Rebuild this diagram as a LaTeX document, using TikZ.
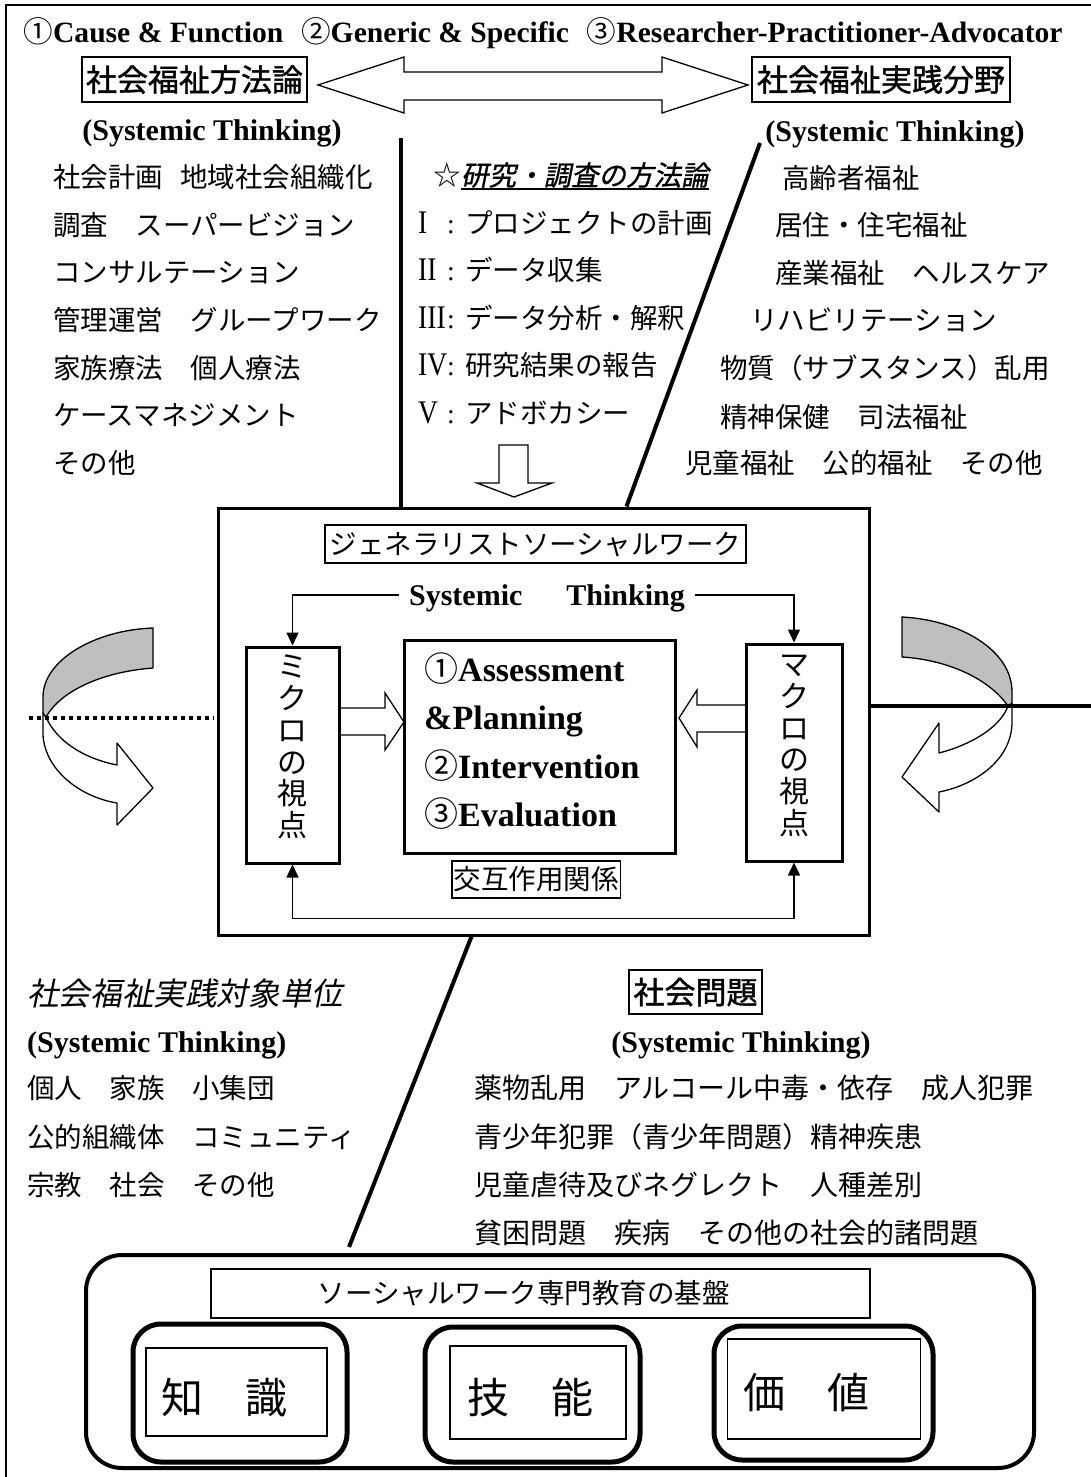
\documentclass[tikz,border=0pt]{standalone}
\usepackage{fontspec}
\setmainfont{Liberation Serif}
\newfontfamily\jp{Noto Sans CJK JP}
\newfontfamily\jpit{Noto Sans CJK JP}[FakeSlant=0.2]
\newfontfamily\jpbf{Noto Sans CJK JP}[FakeBold=1.2]
\newfontfamily\jpitbf{Noto Sans CJK JP}[FakeSlant=0.2,FakeBold=1]
\usetikzlibrary{arrows.meta,calc}
\newcommand\fsz[1]{\fontsize{#1}{#1}\selectfont}
\newcommand\fitx[2]{\resizebox{#1}{\height}{#2}}
\newcommand\cdig[1]{{\jp\mdseries #1}}
\newcommand\rnum[1]{\makebox[29pt][l]{\rmfamily\scalebox{1}[1.2]{#1}}\makebox[18pt][l]{\rmfamily :}}
\begin{document}
\begin{tikzpicture}[x=1pt,y=-1pt,
  jt/.style={inner sep=0pt,anchor=west,font=\jp\fsz{27.5},text height=24.2pt,text depth=3.3pt},
  jtb/.style={jt,font=\jp\fsz{28},text height=24.6pt,text depth=3.4pt},
  stk/.style={inner sep=0pt,font=\bfseries\fsz{30},text height=20pt,text depth=0pt},
  cbx/.style={inner sep=0pt,anchor=west,font=\bfseries\fsz{34},text height=22.5pt,text depth=0pt},
  hbox/.style={draw,line width=1.5pt,inner sep=0pt,font=\jpbf\fsz{31},text height=27.3pt,text depth=3.7pt},
  lbox/.style={draw,line width=1.5pt,inner sep=0pt,font=\jp\fsz{27.5},text height=24.2pt,text depth=3.3pt},
  thick4/.style={line width=4pt},
  tip/.tip={Triangle[length=13pt,width=12pt]},
  tarrow/.style={line width=1.5pt,-tip},
  hollow/.style={draw,fill=white,line width=1.3pt,line join=miter},
  vbox/.style={draw,line width=3pt,inner sep=0pt},
  vtext/.style={inner sep=0pt,align=center,font=\jp\fontsize{30}{31.7}\selectfont},
  big/.style={inner sep=0pt,font=\jp\fsz{42},text height=37pt,text depth=5pt},
  curv/.style={line width=1.3pt,line join=round}
]
\useasboundingbox (0,0) rectangle (1091,1477);
\fill[white] (0,0) rectangle (1091,1477);
% frame
\draw[line width=1.5pt] (6,1477) -- (6,5) -- (1091,5);

% header
\node[inner sep=0pt,font=\bfseries\fsz{29.5},text height=19.5pt,text depth=0pt] (hdr) at (543,33)
  {\fitx{1039pt}{\cdig{①}Cause \& Function\hspace{0.6em}\cdig{②}Generic \& Specific\hspace{0.6em}\cdig{③}Researcher-Practitioner-Advocator}};

% top boxes and double arrow
\node[hbox,minimum width=225pt,minimum height=45pt] (bL) at (194.5,79.5) {社会福祉方法論};
\node[hbox,minimum width=258pt,minimum height=45pt] (bR) at (881,79.5) {社会福祉実践分野};
\draw[hollow] (318,85) -- (404,57) -- (404,72) -- (662,72) -- (662,57) -- (748,85) -- (662,113) -- (662,100) -- (404,100) -- (404,113) -- cycle;

\node[stk] (stL) at (212,131) {(Systemic Thinking)};
\node[stk] (stR) at (895,132) {(Systemic Thinking)};

% left list
\node[jt] (l1) at (53,177) {社会計画\hspace{17pt}地域社会組織化};
\node[jt] (l2) at (53,224.7) {調査　スーパービジョン};
\node[jt] (l3) at (53,272.4) {コンサルテーション};
\node[jt] (l4) at (53,320) {管理運営　グループワーク};
\node[jt] (l5) at (53,367.8) {家族療法　個人療法};
\node[jt] (l6) at (53,415.5) {ケースマネジメント};
\node[jt] (l7) at (53,463) {その他};

% middle column
\node[jt] (star) at (433,175) {☆};
\node[jt,font=\jpitbf\fsz{27.5}] (mt) at (star.east) {研究・調査の方法論};
\draw[line width=2pt] (mt.south west) -- (mt.south east);
\node[jt] (m1) at (418,223) {\rnum{I}プロジェクトの計画};
\node[jt] (m2) at (418,270.5) {\rnum{II}データ収集};
\node[jt] (m3) at (418,318) {\rnum{III}データ分析・解釈};
\node[jt] (m4) at (418,365.5) {\rnum{IV}研究結果の報告};
\node[jt] (m5) at (418,413) {\rnum{V}アドボカシー};
\draw[hollow] (499,445) -- (528,445) -- (528,483) -- (552,483) -- (514,497) -- (477,483) -- (499,483) -- cycle;

% right list
\node[jt] (r1) at (782,178) {高齢者福祉};
\node[jt] (r2) at (775,225) {居住・住宅福祉};
\node[jt] (r3) at (775,273) {産業福祉　ヘルスケア};
\node[jt] (r4) at (750,320) {リハビリテーション};
\node[jt] (r5) at (720,368) {物質（サブスタンス）乱用};
\node[jt] (r6) at (720,417) {精神保健　司法福祉};
\node[jt] (r7) at (685,463) {児童福祉　公的福祉　その他};

% main box
\node[draw,line width=3pt,minimum width=651pt,minimum height=427pt] (mainbox) at (543.5,721.5) {};
\coordinate (v1) at (401,138);
\draw[thick4] (v1) -- (v1 |- mainbox.north);
\coordinate (d1) at (760,143);
\coordinate (d1e) at ($(mainbox.north west)+(410,0)$);
\draw[thick4] (d1) -- (d1e);

\node[lbox,minimum width=421pt,minimum height=38pt] (gsw) at (535.5,544) {ジェネラリストソーシャルワーク};
\node[stk,inner xsep=10pt] (stt) at (547,595) {Systemic\hspace{44pt}Thinking};

% hollow arrows into center
\draw[hollow] (339,708) -- (385,708) -- (385,693) -- (404,722) -- (385,750) -- (385,735) -- (339,735) -- cycle;
\draw[hollow] (746,705) -- (697,705) -- (697,690) -- (679,718) -- (697,747) -- (697,732) -- (746,732) -- cycle;

\node[vbox,minimum width=93pt,minimum height=216pt] (micro) at (292.5,755) {};
\node[vtext] (microT) at (292.5,747) {ミ\\ク\\ロ\\の\\視\\点};
\node[vbox,minimum width=96pt,minimum height=217pt] (macro) at (794,752.5) {};
\node[vtext] (macroT) at (794,746) {マ\\ク\\ロ\\の\\視\\点};
\node[vbox,minimum width=271.5pt,minimum height=213pt] (center) at (540,746.5) {};
\node[cbx] (c1) at (424,670) {\cdig{①}Assessment};
\node[cbx] (c2) at (424,718) {\&Planning};
\node[cbx] (c3) at (424,767) {\cdig{②}Intervention};
\node[cbx] (c4) at (424,815) {\cdig{③}Evaluation};

\draw[tarrow] (stt.west) -| (micro.north);
\draw[tarrow] (stt.east) -| (macro.north);
\draw[line width=1.5pt,tip-tip] (micro.south) -- ++(0,54) -| (macro.south);
\node[lbox,minimum width=168.5pt,minimum height=37pt] (kg) at (536,879.5) {交互作用関係};

% left curved arrow
\filldraw[curv,fill=white] (43,713) -- (43,735) .. controls (45,770) and (80,797) .. (117,803) -- (117,825) -- (153,788) -- (117,743) -- (117,765) .. controls (82,758) and (56,740) .. (46,717) -- cycle;
\filldraw[curv,fill=black!25] (153,628) .. controls (95,630) and (43,660) .. (43,697) -- (43,713) -- (46,717) .. controls (60,692) and (100,672) .. (153,668) -- cycle;
\coordinate (lEnd) at (29,718);
\draw[line width=4pt,dash pattern=on 4pt off 4pt] (lEnd) -- ($(lEnd -| mainbox.west)+(-3,0)$);

% right curved arrow
\filldraw[curv,fill=white] (1012,703) -- (1012,722) .. controls (1012,760) and (975,785) .. (939,792) -- (939,812) -- (902,777) -- (939,723) -- (939,753) .. controls (970,745) and (1000,728) .. (1008,706) -- cycle;
\filldraw[curv,fill=black!25] (902,617) .. controls (960,620) and (1012,650) .. (1012,692) -- (1012,703) -- (1008,706) .. controls (990,680) and (950,660) .. (902,657) -- cycle;
\coordinate (rEnd) at (1091,706);
\draw[thick4] (rEnd -| mainbox.east) -- (rEnd);

% lower part
\coordinate (d2) at (349,1247);
\draw[thick4] ($(mainbox.south west)+(255,0)$) -- (d2);

\node[jt,font=\jpit\fsz{31.6},text height=27.8pt,text depth=3.8pt] (unit) at (27,993) {社会福祉実践対象単位};
\node[stk,anchor=west] (stBL) at (27,1042) {(Systemic Thinking)};
\node[jt] (u1) at (27,1088) {個人　家族　小集団};
\node[jt] (u2) at (27,1137) {公的組織体　コミュニティ};
\node[jt] (u3) at (27,1185) {宗教　社会　その他};

\node[hbox,minimum width=133pt,minimum height=44pt] (sp) at (695.5,992) {社会問題};
\node[stk] (stBR) at (741,1042) {(Systemic Thinking)};
\node[jtb] (p1) at (474,1088) {薬物乱用　アルコール中毒・依存　成人犯罪};
\node[jtb] (p2) at (474,1137) {青少年犯罪（青少年問題）精神疾患};
\node[jtb] (p3) at (474,1185) {児童虐待及びネグレクト　人種差別};
\node[jtb] (p4) at (474,1233) {貧困問題　疾病　その他の社会的諸問題};

% base
\node[draw,line width=4pt,rounded corners=36pt,minimum width=948pt,minimum height=213pt] (base) at (560,1361.5) {};
\node[lbox,minimum width=659pt,minimum height=49pt] (lbl) at (540.5,1293.5) {\hspace*{-34pt}ソーシャルワーク専門教育の基盤};
\node[draw,line width=5pt,rounded corners=28pt,minimum width=214pt,minimum height=138pt] (k1) at (240,1393) {};
\node[draw,line width=5pt,rounded corners=28pt,minimum width=215pt,minimum height=135pt] (k2) at (532.5,1394.5) {};
\node[draw,line width=5pt,rounded corners=28pt,minimum width=219pt,minimum height=134pt] (k3) at (823.5,1393) {};
\node[draw,line width=1.5pt,minimum width=181pt,minimum height=88pt] (i1) at (236.5,1392) {};
\node[draw,line width=1.5pt,minimum width=176pt,minimum height=93pt] (i2) at (538,1392.5) {};
\node[draw,line width=1.5pt,minimum width=193pt,minimum height=100pt] (i3) at (824,1389) {};
\node[big] (t1) at (224,1397) {知　識};
\node[big] (t2) at (530,1397) {技　能};
\node[big] (t3) at (806.5,1392) {価　値};
\end{tikzpicture}
\end{document}
